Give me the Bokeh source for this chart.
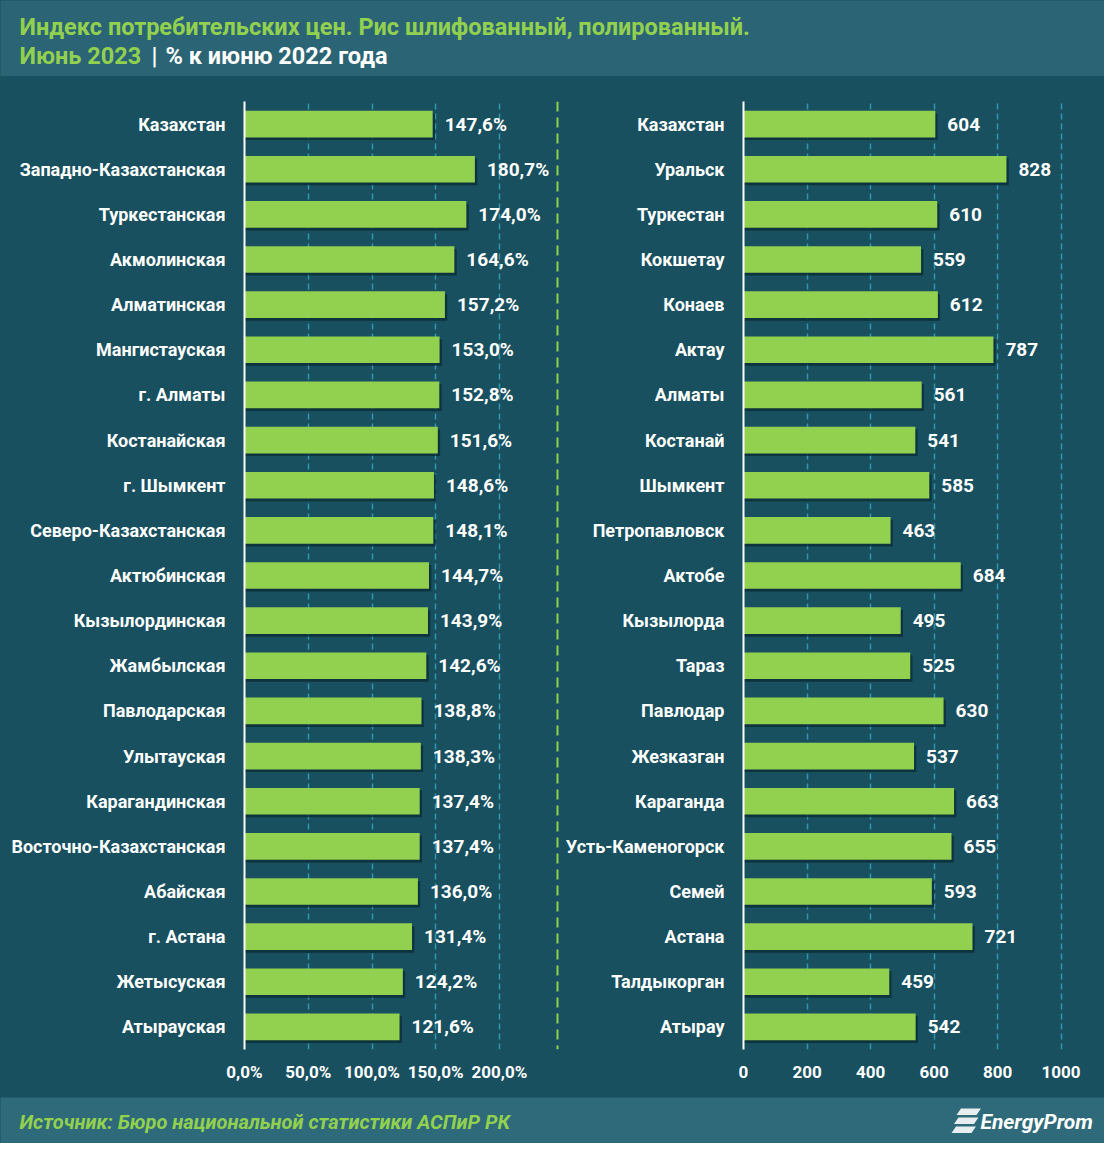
from bokeh.plotting import figure
from bokeh.layouts import column, row
from bokeh.models import Range1d, FactorRange, FixedTicker, Span, ColumnDataSource
from bokeh.transform import dodge
from bokeh.core.properties import value
from bokeh.embed import file_html
from bokeh.resources import INLINE

# ---------------- data ----------------
regions = ["Казахстан", "Западно-Казахстанская", "Туркестанская", "Акмолинская",
           "Алматинская", "Мангистауская", "г. Алматы", "Костанайская", "г. Шымкент",
           "Северо-Казахстанская", "Актюбинская", "Кызылординская", "Жамбылская",
           "Павлодарская", "Улытауская", "Карагандинская", "Восточно-Казахстанская",
           "Абайская", "г. Астана", "Жетысуская", "Атырауская"]
cpi_index = [147.6, 180.7, 174.0, 164.6, 157.2, 153.0, 152.8, 151.6, 148.6, 148.1,
             144.7, 143.9, 142.6, 138.8, 138.3, 137.4, 137.4, 136.0, 131.4, 124.2, 121.6]

cities = ["Казахстан", "Уральск", "Туркестан", "Кокшетау", "Конаев", "Актау", "Алматы",
          "Костанай", "Шымкент", "Петропавловск", "Актобе", "Кызылорда", "Тараз",
          "Павлодар", "Жезказган", "Караганда", "Усть-Каменогорск", "Семей", "Астана",
          "Талдыкорган", "Атырау"]
price_tenge = [604, 828, 610, 559, 612, 787, 561, 541, 585, 463, 684, 495, 525, 630,
               537, 663, 655, 593, 721, 459, 542]

ticks_left = [0, 50, 100, 150, 200]
tick_labels_left = ["0,0%", "50,0%", "100,0%", "150,0%", "200,0%"]
ticks_right = [0, 200, 400, 600, 800, 1000]
tick_labels_right = ["0", "200", "400", "600", "800", "1000"]

title_line1 = "Индекс потребительских цен. Рис шлифованный, полированный."
title_line2a = "Июнь 2023"
title_line2b = "|"
title_line2c = "% к июню 2022 года"
source_text = "Источник: Бюро национальной статистики АСПиР РК"
logo_text = "EnergyProm"

# ---------------- styles ----------------
BG = "#18505f"
BAND = "#2b6575"
FOOT = "#2e6a79"
GREEN = "#92d050"
GRID = "#3295b0"
FONT = "Roboto"
W = 1104
CH = 1021


def chart(cats, vals, labels, width, left_border, right_border, xmax, ticks, tlabels,
          shadow_dx, tick_standoff):
    p = figure(width=width, height=CH, y_range=FactorRange(*cats[::-1], range_padding=0),
               x_range=Range1d(0, xmax), output_backend="svg", toolbar_location=None,
               min_border_left=left_border, min_border_right=right_border,
               min_border_top=25, min_border_bottom=48)
    p.background_fill_color = BG
    p.border_fill_color = BG
    p.outline_line_color = None
    src = ColumnDataSource(dict(cat=cats, val=vals, lab=labels,
                                sh=[v + shadow_dx for v in vals]))
    p.hbar(y=dodge("cat", -0.06, range=p.y_range), left=0, right="sh", height=0.59,
           source=src, fill_color="#0a2a33", fill_alpha=0.75, line_color=None)
    p.hbar(y="cat", left=0, right="val", height=0.59, source=src,
           fill_color=GREEN, line_color=None)
    p.text(x="val", y="cat", text="lab", source=src, x_offset=12,
           text_font=value(FONT), text_font_style="bold", text_font_size="19px",
           text_color="white", text_baseline="middle", text_align="left")
    p.xgrid.ticker = FixedTicker(ticks=ticks)
    p.xgrid.grid_line_color = GRID
    p.xgrid.grid_line_dash = "6 4"
    p.xgrid.grid_line_width = 1.5
    p.ygrid.grid_line_color = None
    p.xaxis.ticker = FixedTicker(ticks=ticks)
    p.xaxis.major_label_overrides = {t: l for t, l in zip(ticks, tlabels)}
    p.xaxis.axis_line_color = None
    p.xaxis.major_tick_line_color = None
    p.xaxis.minor_tick_line_color = None
    p.xaxis.major_label_standoff = tick_standoff
    p.xaxis.major_label_text_color = "white"
    p.xaxis.major_label_text_font = FONT
    p.xaxis.major_label_text_font_style = "bold"
    p.xaxis.major_label_text_font_size = "17px"
    p.yaxis.axis_line_color = "white"
    p.yaxis.axis_line_width = 2
    p.yaxis.major_tick_line_color = None
    p.yaxis.minor_tick_line_color = None
    p.yaxis.major_label_standoff = 13
    p.yaxis.major_label_text_color = "white"
    p.yaxis.major_label_text_font = FONT
    p.yaxis.major_label_text_font_style = "bold"
    p.yaxis.major_label_text_font_size = "18px"
    return p


fmt_left = [f"{v:.1f}%".replace(".", ",") for v in cpi_index]
fmt_right = [str(v) for v in price_tenge]

left = chart(regions, cpi_index, fmt_left, 554, 244, 0, 310 / 1.275,
             ticks_left, tick_labels_left, 1.8, 6)
right = chart(cities, price_tenge, fmt_right, 544, 183, 10, 351 / 0.3176,
              ticks_right, tick_labels_right, 7, 10)

sep = figure(width=6, height=CH, x_range=Range1d(0, 1), y_range=Range1d(0, 1),
             output_backend="svg", toolbar_location=None, min_border=0,
             x_axis_type=None, y_axis_type=None)
sep.background_fill_color = BG
sep.border_fill_color = BG
sep.outline_line_color = None
sep.grid.grid_line_color = None
sep.add_layout(Span(location=0.5, dimension="height", line_color=GREEN,
                    line_width=2, line_dash="10 6"))

# title band
top = figure(width=W, height=76, x_range=Range1d(0, W), y_range=Range1d(76, 0),
             output_backend="svg", toolbar_location=None, min_border=0,
             x_axis_type=None, y_axis_type=None)
top.background_fill_color = BAND
top.border_fill_color = BAND
top.outline_line_color = None
top.grid.grid_line_color = None
tkw = dict(text_font=value(FONT), text_font_style="bold", text_font_size="23.5px",
           text_baseline="middle", text_align="left")
top.text(x=[19], y=[26], text=[title_line1], text_color=GREEN, **tkw)
top.text(x=[19], y=[55], text=[title_line2a], text_color=GREEN, **tkw)
top.text(x=[151], y=[55], text=[title_line2b], text_color="white", **tkw)
top.text(x=[165], y=[55], text=[title_line2c], text_color="white", **tkw)

# footer band
foot = figure(width=W, height=46, x_range=Range1d(0, W), y_range=Range1d(46, 0),
              output_backend="svg", toolbar_location=None, min_border=0,
              x_axis_type=None, y_axis_type=None)
foot.background_fill_color = FOOT
foot.border_fill_color = FOOT
foot.outline_line_color = None
foot.grid.grid_line_color = None
foot.text(x=[19], y=[24], text=[source_text], text_color=GREEN,
          text_font=value(FONT), text_font_style="bold italic", text_font_size="20px",
          text_baseline="middle")
foot.text(x=[980], y=[24], text=[logo_text], text_color="white",
          text_font=value(FONT), text_font_style="bold italic", text_font_size="21px",
          text_baseline="middle")
icon_xs, icon_ys = [], []
for i in range(3):
    y0 = 11 + i * 9
    y1 = y0 + 6.5
    sk = 2.5
    icon_xs.append([958 - i * sk + sk, 978 - i * sk + sk, 976 - i * sk, 956 - i * sk])
    icon_ys.append([y0, y0, y1, y1])
foot.patches(icon_xs, icon_ys, fill_color="#e8eef0", line_color=None)

mid = row(left, sep, right, spacing=0, styles={"background-color": BG})
layout = column(top, mid, foot, spacing=0, styles={"background-color": BG})
open("out.html", "w").write(file_html(layout, INLINE))
